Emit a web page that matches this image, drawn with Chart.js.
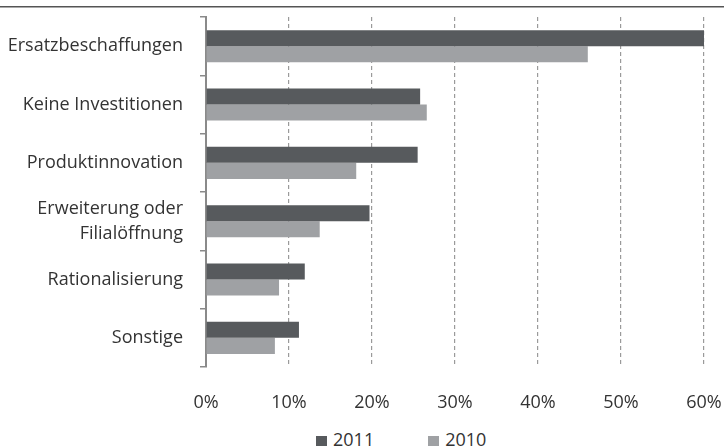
<!DOCTYPE html>
<html>
<head>
  <meta charset="utf-8">
  <title>Investitionen</title>
  <script src="https://cdn.jsdelivr.net/npm/chart.js"></script>
<style>
body {
  margin: 0;
  padding: 0;
  background: #ffffff;
  font-family: 'Open Sans', sans-serif;
}
.chart-box {
  width: 724px;
  height: 420px;
  position: relative;
}
#legend {
  position: absolute;
  left: 316px;
  top: 429px;
  display: flex;
  font-size: 18px;
  line-height: 20px;
  color: #333333;
}
#legend .item {
  display: flex;
  align-items: flex-start;
  margin-right: 54px;
}
#legend .box {
  display: inline-block;
  width: 11px;
  height: 10px;
  margin-right: 6px;
  margin-top: 7px;
}
</style>
</head>
<body>

  <div class="chart-box">
    <canvas id="barChart"></canvas>
  </div>
  <div id="legend"></div>

  <script>
    const categories = [
      'Ersatzbeschaffungen',
      'Keine Investitionen',
      'Produktinnovation',
      ['Erweiterung oder', 'Filialöffnung'],
      'Rationalisierung',
      'Sonstige'
    ];
    const values2011 = [60, 25.8, 25.5, 19.7, 11.9, 11.2];
    const values2010 = [46, 26.6, 18.1, 13.7, 8.8, 8.3];
    const xTicks = [0, 10, 20, 30, 40, 50, 60];

    const fontFamily = "'Open Sans', sans-serif";
    const textColor = '#333333';

    // thin dark line across the top of the figure
    const topRule = {
      id: 'topRule',
      beforeDraw(chart) {
        const c = chart.ctx;
        c.save();
        c.fillStyle = '#555555';
        c.fillRect(0, 6, chart.width, 1.5);
        c.restore();
      }
    };

    const ctx = document.getElementById('barChart').getContext('2d');
    const barChart = new Chart(ctx, {
      type: 'bar',
      data: {
        labels: categories,
        datasets: [
          {
            label: '2011',
            data: values2011,
            backgroundColor: '#575a5d',
            borderWidth: 0
          },
          {
            label: '2010',
            data: values2010,
            backgroundColor: '#9fa1a4',
            borderWidth: 0
          }
        ]
      },
      options: {
        indexAxis: 'y',
        responsive: true,
        maintainAspectRatio: false,
        animation: false,
        categoryPercentage: 0.55,
        barPercentage: 1.0,
        layout: {
          padding: { top: 17, right: 0, left: 4, bottom: 0 }
        },
        plugins: {
          tooltip: { enabled: false },
          legend: { display: false }
        },
        scales: {
          x: {
            min: 0,
            max: 60,
            afterBuildTicks(scale) {
              scale.ticks = xTicks.map(v => ({ value: v }));
            },
            afterFit(scale) {
              scale.height = 53;
              scale.paddingLeft = 0;
              scale.paddingRight = 20;
            },
            ticks: {
              color: textColor,
              padding: 25,
              maxRotation: 0,
              font: { family: fontFamily, size: 18 },
              callback: v => v + '%'
            },
            grid: {
              color: ctx => ctx.index === 0 ? 'rgba(0,0,0,0)' : '#9a9a9a',
              lineWidth: 1.2,
              drawTicks: false
            },
            border: { display: false, dash: [4, 3] }
          },
          y: {
            afterFit(scale) {
              scale.width = 202;
              scale.paddingTop = 0;
              scale.paddingBottom = 0;
            },
            ticks: {
              color: textColor,
              padding: 17,
              font: { family: fontFamily, size: 18, lineHeight: 1.36 }
            },
            grid: {
              drawOnChartArea: false,
              drawTicks: true,
              tickLength: 6,
              color: '#8a8a8a',
              lineWidth: 1.5
            },
            border: { color: '#8a8a8a', width: 2 }
          }
        }
      },
      plugins: [topRule]
    });

    // legend built from the datasets
    const legendEl = document.getElementById('legend');
    barChart.data.datasets.forEach(ds => {
      const item = document.createElement('span');
      item.className = 'item';
      const box = document.createElement('span');
      box.className = 'box';
      box.style.background = ds.backgroundColor;
      item.appendChild(box);
      item.appendChild(document.createTextNode(ds.label));
      legendEl.appendChild(item);
    });
  </script>

</body>
</html>
